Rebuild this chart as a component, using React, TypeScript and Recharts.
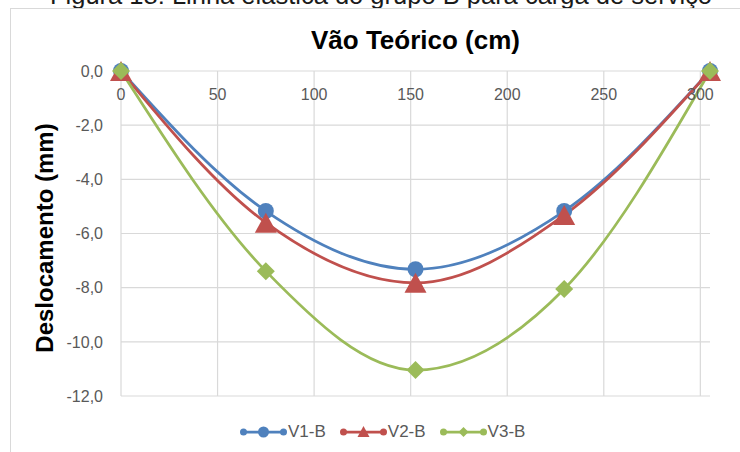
import { LineChart, Line, XAxis, YAxis, CartesianGrid, Legend, Label, ReferenceLine } from 'recharts';

// vão teórico (cm) and deslocamento (mm)
const spanCm = [0, 75, 152.5, 229.5, 305];
const v1B = [0, -5.17, -7.32, -5.17, 0];
const v2B = [0, -5.6, -7.82, -5.32, 0];
const v3B = [0, -7.39, -11.04, -8.05, 0];
const seriesNames = ['V1-B', 'V2-B', 'V3-B'];
const xTicks = [0, 50, 100, 150, 200, 250, 300];
const yTicks = [-12, -10, -8, -6, -4, -2, 0];

const BLUE = '#4F81BD';
const RED = '#C0504D';
const GREEN = '#9BBB59';
const GRID = '#D9D9D9';
const colors = [BLUE, RED, GREEN];
const FONT = '"Liberation Sans", Arial, sans-serif';

const data = spanCm.map((x, i) => ({ x, v1: v1B[i], v2: v2B[i], v3: v3B[i] }));

const fmt = (v: number) => v.toFixed(1).replace('.', ',');

const CircleDot = (props: any) => {
  const { cx, cy, index } = props;
  return <circle key={`c${index}`} cx={cx} cy={cy} r={8} fill={BLUE} />;
};

const TriangleDot = (props: any) => {
  const { cx, cy, index } = props;
  return (
    <polygon
      key={`t${index}`}
      points={`${cx},${cy - 10} ${cx - 11},${cy + 10} ${cx + 11},${cy + 10}`}
      fill={RED}
    />
  );
};

const DiamondDot = (props: any) => {
  const { cx, cy, index } = props;
  return (
    <polygon
      key={`d${index}`}
      points={`${cx},${cy - 9} ${cx + 9},${cy} ${cx},${cy + 9} ${cx - 9},${cy}`}
      fill={GREEN}
    />
  );
};

const legendMarker = (i: number, c: string) => {
  if (i === 0) return <circle cx={23.5} cy={7} r={5.5} fill={c} />;
  if (i === 1) return <polygon points="23.5,1 17.5,12 29.5,12" fill={c} />;
  return <polygon points="23.5,2 28.5,7 23.5,12 18.5,7" fill={c} />;
};

const renderLegend = () => (
  <div style={{ display: 'flex', alignItems: 'center', height: 20, fontFamily: FONT }}>
    {seriesNames.map((name, i) => (
      <div key={name} style={{ display: 'flex', alignItems: 'center', marginRight: 14 }}>
        <svg width={47} height={14}>
          <line x1={3.5} y1={7} x2={43.5} y2={7} stroke={colors[i]} strokeWidth={2.75} />
          <circle cx={3.5} cy={7} r={3.5} fill={colors[i]} />
          <circle cx={43.5} cy={7} r={3.5} fill={colors[i]} />
          {legendMarker(i, colors[i])}
        </svg>
        <span style={{ fontSize: 17, color: '#595959', marginLeft: 1 }}>{name}</span>
      </div>
    ))}
  </div>
);

export default function App() {
  return (
    <div
      style={{
        position: 'absolute',
        left: 0,
        top: 0,
        width: 740,
        height: 452,
        overflow: 'hidden',
        background: '#fff',
        fontFamily: FONT,
      }}
    >
      <div style={{ position: 'absolute', left: 50, top: -19, fontSize: 25.5, color: '#1a1a1a', whiteSpace: 'nowrap' }}>
        Figura 18: Linha elástica do grupo B para carga de serviço
      </div>
      <div
        style={{
          position: 'absolute',
          left: 10,
          top: 8,
          width: 760,
          height: 470,
          border: '1px solid #D9D9D9',
        }}
      />
      <div
        style={{
          position: 'absolute',
          left: 121,
          width: 589,
          top: 25,
          textAlign: 'center',
          fontSize: 26,
          fontWeight: 'bold',
          color: '#000',
        }}
      >
        Vão Teórico (cm)
      </div>
      <div style={{ position: 'absolute', left: 0, top: 0 }}>
        <LineChart width={740} height={452} data={data} margin={{ top: 71, right: 30, bottom: 36, left: 0 }}>
          <CartesianGrid stroke={GRID} strokeWidth={1.2} vertical={false} />
          {xTicks.map((t) => (
            <ReferenceLine key={t} x={t} stroke={GRID} strokeWidth={1.2} />
          ))}
          <XAxis
            type="number"
            dataKey="x"
            domain={[0, 305]}
            ticks={xTicks}
            orientation="top"
            mirror
            height={2}
            axisLine={false}
            tickLine={false}
            tickSize={0}
            tickMargin={18}
            tick={{ fill: '#595959', fontSize: 16, fontFamily: FONT }}
          />
          <YAxis
            type="number"
            domain={[-12, 0]}
            ticks={yTicks}
            width={121}
            axisLine={false}
            tickLine={false}
            tickSize={0}
            tickMargin={18}
            tickFormatter={fmt}
            tick={{ fill: '#595959', fontSize: 16, fontFamily: FONT }}
          >
            <Label
              content={() => (
                <text
                  x={53}
                  y={238}
                  transform="rotate(-90 53 238)"
                  textAnchor="middle"
                  fontSize={24}
                  fontWeight="bold"
                  fontFamily={FONT}
                  fill="#000"
                >
                  Deslocamento (mm)
                </text>
              )}
            />
          </YAxis>
          <Legend
            content={renderLegend}
            wrapperStyle={{ top: 422, left: 240, width: 330, height: 20 }}
          />
          <Line
            type="monotone"
            dataKey="v1"
            name={seriesNames[0]}
            stroke={BLUE}
            strokeWidth={2.75}
            dot={CircleDot}
            activeDot={false}
            isAnimationActive={false}
          />
          <Line
            type="monotone"
            dataKey="v2"
            name={seriesNames[1]}
            stroke={RED}
            strokeWidth={2.75}
            dot={TriangleDot}
            activeDot={false}
            isAnimationActive={false}
          />
          <Line
            type="monotone"
            dataKey="v3"
            name={seriesNames[2]}
            stroke={GREEN}
            strokeWidth={2.75}
            dot={DiamondDot}
            activeDot={false}
            isAnimationActive={false}
          />
        </LineChart>
      </div>
    </div>
  );
}
